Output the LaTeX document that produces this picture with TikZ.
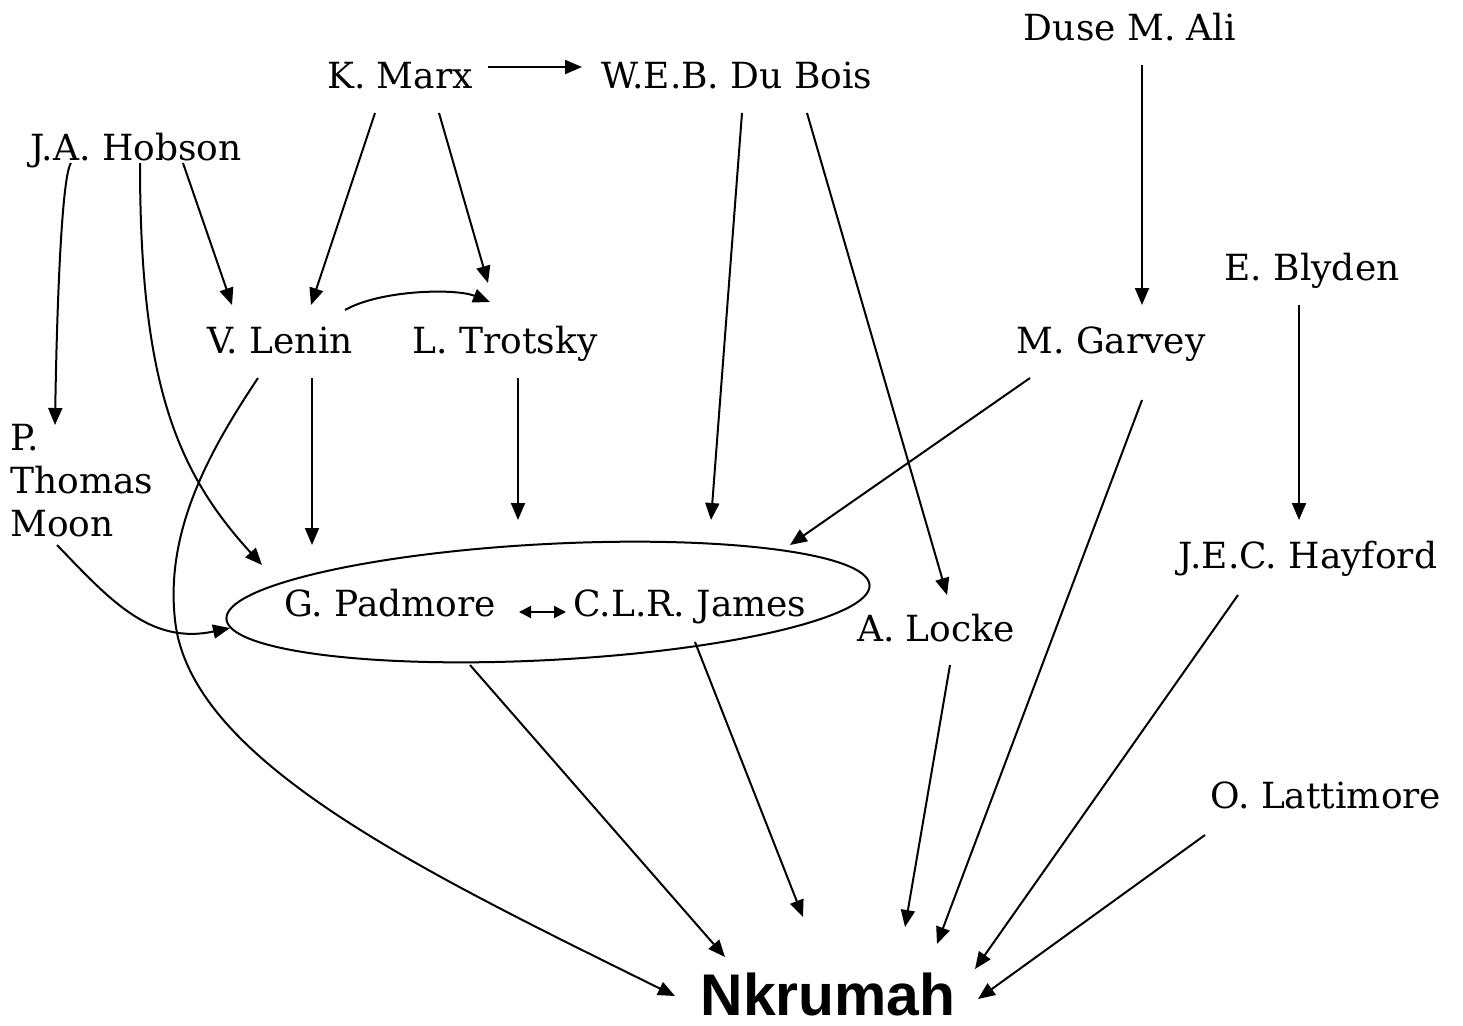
\documentclass[tikz,border=0pt]{standalone}
\usepackage{fontspec}
\setmainfont{DejaVu Serif}
\newfontfamily\nkfont{Liberation Sans}
\usetikzlibrary{arrows.meta,shapes.geometric}

\begin{document}
\begin{tikzpicture}[x=0.5pt,y=-0.5pt,
        thinker/.style={inner sep=0pt,font=\fontsize{18}{21.5}\selectfont},
        person/.style={thinker,text height=13pt,text depth=0pt},
        infl/.style={-{Triangle[length=8.5pt,width=7pt]},line width=1pt},
        mutual/.style={{Triangle[length=6pt,width=6pt]}-{Triangle[length=6pt,width=6pt]},line width=1pt}]
        \useasboundingbox (0,0) rectangle (1463,1025);

        % people
        \node[person] (marx) at (400,75) {K. Marx};
        \node[person] (dubois) at (737,75) {W.E.B. Du Bois};
        \node[person] (ali) at (1130,27) {Duse M. Ali};
        \node[person] (hobson) at (136,147) {J.A. Hobson};
        \node[person] (blyden) at (1312,267) {E. Blyden};
        \node[person] (lenin) at (280,340) {V. Lenin};
        \node[person] (trotsky) at (505,340) {L. Trotsky};
        \node[person] (garvey) at (1111,340) {M. Garvey};
        \node[thinker,align=left,anchor=north west] (moon) at (10,424) {P.\\Thomas\\Moon};
        \node[person] (hayford) at (1308,555) {J.E.C. Hayford};
        \node[person] (padmore) at (390,603) {G. Padmore};
        \node[person] (james) at (690,603) {C.L.R. James};
        \node[person] (locke) at (936,628) {A. Locke};
        \node[person] (lattimore) at (1326,795) {O. Lattimore};
        \node[inner sep=0pt,font=\nkfont\bfseries\fontsize{29.4}{32}\selectfont,text height=21pt,text depth=0pt] (nkr) at (828,994) {Nkrumah};

        % padmore & james
        \node[draw,ellipse,line width=1pt,minimum width=322pt,minimum height=58pt,inner sep=0pt,rotate=3] (grp) at (548,602) {};
        \draw[mutual] ([shift={(129,9)}]padmore.center) -- ([shift={(-124,9)}]james.center);

        % top rows
        \draw[infl] ([shift={(88,-8)}]marx.center) -- ([shift={(-155,-8)}]dubois.center);
        \draw[infl] ([shift={(-25,38)}]marx.center) -- ([shift={(31,-35)}]lenin.center);
        \draw[infl] ([shift={(39,38)}]marx.center) -- ([shift={(-17,-57)}]trotsky.center);
        \draw[infl] ([shift={(47,16)}]hobson.center) -- ([shift={(-48,-35)}]lenin.center);
        \draw[infl] ([shift={(-65,16)}]hobson.center) .. controls (62,175) and (57,300) .. ([shift={(45,1)}]moon.north west);
        \draw[infl] ([shift={(4,16)}]hobson.center) .. controls (140,380) and (175,470) .. ([shift={(-286,-37)}]grp.center);
        \draw[infl] ([shift={(65,-30)}]lenin.center) .. controls (380,290) and (455,288) .. ([shift={(-15,-38)}]trotsky.center);
        \draw[infl] ([shift={(12,38)}]ali.center) -- ([shift={(31,-35)}]garvey.center);
        \draw[infl] ([shift={(-13,38)}]blyden.center) -- ([shift={(-9,-35)}]hayford.center);

        % into the group
        \draw[infl] ([shift={(32,38)}]lenin.center) -- ([shift={(-236,-57)}]grp.center);
        \draw[infl] ([shift={(13,38)}]trotsky.center) -- ([shift={(-30,-82)}]grp.center);
        \draw[infl] ([shift={(5,38)}]dubois.center) -- ([shift={(163,-82)}]grp.center);
        \draw[infl] ([shift={(-81,38)}]garvey.center) -- ([shift={(242,-57)}]grp.center);
        \draw[infl] ([shift={(47,121)}]moon.north west) .. controls (110,600) and (150,645) .. ([shift={(-318,26)}]grp.center);
        \draw[infl] ([shift={(70,38)}]dubois.center) -- ([shift={(11,-33)}]locke.center);

        % to nkrumah
        \draw[infl] ([shift={(-22,38)}]lenin.center) .. controls (210,450) and (165,530) .. (175,620) .. controls (190,760) and (420,870) .. ([shift={(-153,2)}]nkr.center);
        \draw[infl] ([shift={(-78,63)}]grp.center) -- ([shift={(-103,-37)}]nkr.center);
        \draw[infl] ([shift={(5,39)}]james.center) -- ([shift={(-25,-77)}]nkr.center);
        \draw[infl] ([shift={(14,37)}]locke.center) -- ([shift={(77,-67)}]nkr.center);
        \draw[infl] ([shift={(31,60)}]garvey.center) -- ([shift={(109,-50)}]nkr.center);
        \draw[infl] ([shift={(-70,40)}]hayford.center) -- ([shift={(147,-25)}]nkr.center);
        \draw[infl] ([shift={(-121,40)}]lattimore.center) -- ([shift={(150,5)}]nkr.center);
    \end{tikzpicture}
\end{document}
